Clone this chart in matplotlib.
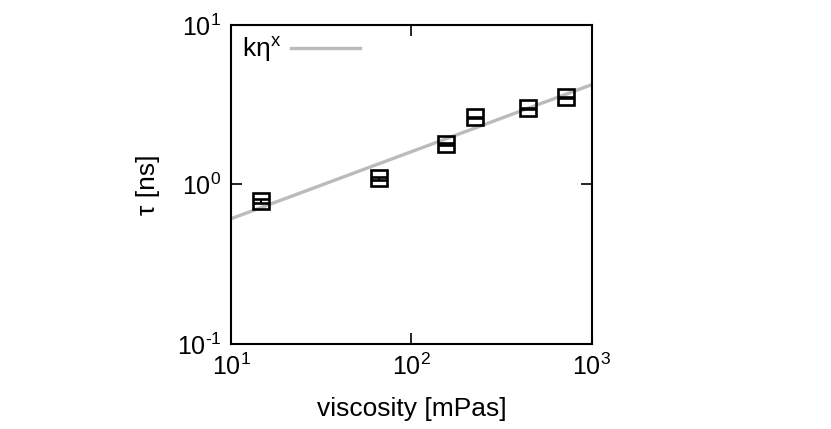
import numpy as np
import matplotlib
matplotlib.use("Agg")
import matplotlib.pyplot as plt
from matplotlib.ticker import FixedLocator, FixedFormatter

# data
viscosity = [14.6, 66.4, 156.6, 226.0, 442.0, 725.0]   # mPas
tau = [0.79, 1.09, 1.80, 2.63, 3.00, 3.51]             # ns
tau_err = [0.02, 0.02, 0.03, 0.03, 0.03, 0.03]
fit_x = [10, 1000]          # power-law fit k*eta^x, endpoints
fit_y = [0.61, 4.22]

x_ticks = [10, 100, 1000]
x_labels = [r"10$^{1}$", r"10$^{2}$", r"10$^{3}$"]
y_ticks = [0.1, 1, 10]
y_labels = [r"10$^{\text{-}1}$", r"10$^{0}$", r"10$^{1}$"]

plt.rcParams["font.family"] = ["Liberation Sans", "DejaVu Sans"]
plt.rcParams["mathtext.fontset"] = "custom"
plt.rcParams["mathtext.rm"] = "Liberation Sans"
plt.rcParams["mathtext.it"] = "Liberation Sans"
plt.rcParams["mathtext.default"] = "regular"

fig = plt.figure(figsize=(8.31, 4.29), dpi=100)
ax = fig.add_axes([0.278, 0.198, 0.434, 0.744])

ax.plot(fit_x, fit_y, color="#bbbbbb", lw=2.4, label=r"k$\eta^{x}$", zorder=1)
ax.errorbar(viscosity, tau, yerr=tau_err, fmt="s", ms=11, mfc="none", mec="black",
            mew=1.9, ecolor="black", elinewidth=1.5, capsize=5.5, capthick=1.6, zorder=3)

ax.set_xscale("log"); ax.set_yscale("log")
ax.set_xlim(10, 1000); ax.set_ylim(0.1, 10)
ax.minorticks_off()
ax.xaxis.set_major_locator(FixedLocator(x_ticks))
ax.xaxis.set_major_formatter(FixedFormatter(x_labels))
ax.yaxis.set_major_locator(FixedLocator(y_ticks))
ax.yaxis.set_major_formatter(FixedFormatter(y_labels))
ax.tick_params(which="major", direction="in", top=True, right=True, length=8, width=1.2,
               labelsize=18, pad=7)
for s in ax.spines.values():
    s.set_linewidth(1.5)

ax.set_xlabel("viscosity [mPas]", fontsize=19, labelpad=12)
ax.set_ylabel("τ [ns]", fontsize=19, labelpad=12)

ax.legend(loc="upper left", frameon=False, markerfirst=False, fontsize=19,
          handlelength=2.6, borderaxespad=0.0, handletextpad=0.4,
          bbox_to_anchor=(0.0, 1.0))

fig.savefig("out.png", dpi=100)
